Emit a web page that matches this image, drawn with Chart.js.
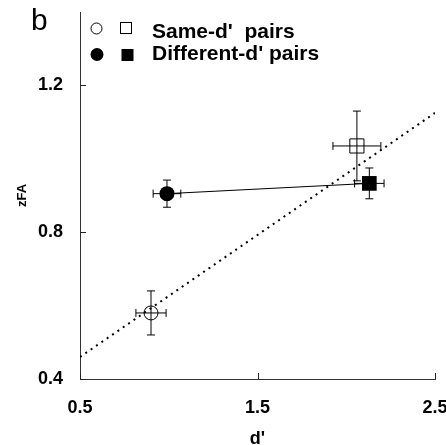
<!DOCTYPE html>
<html lang="en">

<head>
    <meta charset="UTF-8">
    <title>zFA vs d'</title>
    <script src="https://cdn.jsdelivr.net/npm/chart.js"></script>
    <style>
        html, body { margin: 0; padding: 0; background: #fff; }
        .chart-box { position: relative; width: 446px; height: 445px; }
    </style>
</head>

<body>
    <div class="chart-box">
        <canvas id="zfaChart"></canvas>
    </div>
    <script>
        // data
        const xTicks = [0.5, 1.5, 2.5];
        const yTicks = [0.4, 0.8, 1.2];

        // same-d' pairs (open circle, open square)
        const sameD = [0.90, 2.06];
        const sameZ = [0.58, 1.035];
        const sameDErr = [0.085, 0.135];
        const sameZErr = [0.06, 0.095];

        // different-d' pairs (filled circle, filled square)
        const diffD = [0.99, 2.13];
        const diffZ = [0.905, 0.933];
        const diffDErr = [0.078, 0.083];
        const diffZErr = [0.037, 0.042];

        // dotted reference line
        const refD = [0.5, 2.5];
        const refZ = [0.46, 1.125];

        const font = 'Liberation Sans, Arial, sans-serif';

        function toPoints(xs, ys) {
            return xs.map((x, i) => ({ x: x, y: ys[i] }));
        }

        // error bars drawn with the chart scales
        const errorBars = {
            id: 'errorBars',
            afterDatasetsDraw(chart) {
                const ctx = chart.ctx;
                const xs = chart.scales.x, ys = chart.scales.y;
                const cap = 4;
                ctx.save();
                ctx.strokeStyle = '#000';
                ctx.lineWidth = 1;
                const groups = [[sameD, sameZ, sameDErr, sameZErr], [diffD, diffZ, diffDErr, diffZErr]];
                groups.forEach(g => {
                    g[0].forEach((d, i) => {
                        const px = xs.getPixelForValue(d);
                        const py = ys.getPixelForValue(g[1][i]);
                        const x1 = xs.getPixelForValue(d - g[2][i]);
                        const x2 = xs.getPixelForValue(d + g[2][i]);
                        const y1 = ys.getPixelForValue(g[1][i] + g[3][i]);
                        const y2 = ys.getPixelForValue(g[1][i] - g[3][i]);
                        ctx.beginPath();
                        ctx.moveTo(x1, py); ctx.lineTo(x2, py);
                        ctx.moveTo(x1, py - cap); ctx.lineTo(x1, py + cap);
                        ctx.moveTo(x2, py - cap); ctx.lineTo(x2, py + cap);
                        ctx.moveTo(px, y1); ctx.lineTo(px, y2);
                        ctx.moveTo(px - cap, y1); ctx.lineTo(px + cap, y1);
                        ctx.moveTo(px - cap, y2); ctx.lineTo(px + cap, y2);
                        ctx.stroke();
                    });
                });
                ctx.restore();
            }
        };

        // inward tick marks on both axes
        const innerTicks = {
            id: 'innerTicks',
            afterDraw(chart) {
                const ctx = chart.ctx;
                const xs = chart.scales.x, ys = chart.scales.y;
                const a = chart.chartArea;
                ctx.save();
                ctx.strokeStyle = '#222';
                ctx.lineWidth = 1;
                ctx.beginPath();
                xs.ticks.forEach(t => {
                    const px = Math.round(xs.getPixelForValue(t.value)) + 0.5;
                    ctx.moveTo(px, a.bottom); ctx.lineTo(px, a.bottom - 6);
                });
                ys.ticks.forEach(t => {
                    const py = Math.round(ys.getPixelForValue(t.value)) + 0.5;
                    ctx.moveTo(a.left, py); ctx.lineTo(a.left + 6, py);
                });
                ctx.stroke();
                ctx.restore();
            }
        };

        // panel letter and legend
        const overlay = {
            id: 'overlay',
            afterDraw(chart) {
                const ctx = chart.ctx;
                ctx.save();
                ctx.fillStyle = '#000';
                ctx.strokeStyle = '#000';
                ctx.lineWidth = 1;
                ctx.textBaseline = 'alphabetic';
                ctx.font = '30px ' + font;
                ctx.fillText('b', 31, 30);

                // row 1: open markers
                ctx.beginPath();
                ctx.arc(96.5, 28.5, 5.5, 0, Math.PI * 2);
                ctx.stroke();
                ctx.strokeRect(120.5, 22.5, 11, 11);
                // row 2: filled markers
                ctx.beginPath();
                ctx.arc(97, 54.5, 6.5, 0, Math.PI * 2);
                ctx.fill();
                ctx.fillRect(121.5, 49, 12, 12);

                ctx.font = 'bold 21px ' + font;
                ctx.fillText("Same-d'  pairs", 152, 38);
                ctx.fillText("Different-d' pairs", 152, 60);
                ctx.restore();
            }
        };

        function noPad(s) {
            s.paddingLeft = 0;
            s.paddingRight = 0;
            s.paddingTop = 0;
            s.paddingBottom = 0;
        }

        const ctx1 = document.getElementById('zfaChart').getContext('2d');
        const zfaChart = new Chart(ctx1, {
            type: 'scatter',
            data: {
                datasets: [
                    {
                        label: 'reference',
                        type: 'line',
                        data: toPoints(refD, refZ),
                        borderColor: '#000',
                        borderWidth: 2,
                        borderDash: [2, 4.5],
                        pointRadius: 0,
                        fill: false
                    },
                    {
                        label: "Same-d' pairs",
                        data: toPoints(sameD, sameZ),
                        pointStyle: ['circle', 'rect'],
                        pointRadius: [7, 10],
                        pointBorderWidth: 1,
                        borderColor: '#000',
                        backgroundColor: 'rgba(0,0,0,0)',
                        showLine: false
                    },
                    {
                        label: "Different-d' pairs",
                        data: toPoints(diffD, diffZ),
                        pointStyle: ['circle', 'rect'],
                        pointRadius: [7.5, 10.4],
                        pointBorderWidth: 0,
                        borderColor: '#000',
                        borderWidth: 1,
                        backgroundColor: '#000',
                        showLine: true
                    }
                ]
            },
            options: {
                responsive: true,
                maintainAspectRatio: false,
                animation: false,
                events: [],
                layout: { padding: { top: 12, right: 10, left: 0, bottom: 0 } },
                plugins: {
                    legend: { display: false },
                    tooltip: { enabled: false }
                },
                scales: {
                    x: {
                        type: 'linear',
                        min: 0.5,
                        max: 2.5,
                        afterBuildTicks: s => { s.ticks = xTicks.map(v => ({ value: v })); },
                        afterFit: s => { s.height = 66; noPad(s); },
                        grid: { drawOnChartArea: false, drawTicks: false },
                        border: { color: '#333', width: 1 },
                        ticks: {
                            color: '#000',
                            padding: 18,
                            maxRotation: 0,
                            autoSkip: false,
                            font: { family: font, size: 18, weight: 'bold' },
                            callback: v => v.toFixed(1)
                        },
                        title: {
                            display: true,
                            text: "d'",
                            color: '#000',
                            padding: 0,
                            font: { family: font, size: 18, weight: 'bold', lineHeight: '12px' }
                        }
                    },
                    y: {
                        type: 'linear',
                        min: 0.4,
                        max: 1.4,
                        afterBuildTicks: s => { s.ticks = yTicks.map(v => ({ value: v })); },
                        afterFit: s => { s.width = 80; noPad(s); },
                        grid: { drawOnChartArea: false, drawTicks: false },
                        border: { color: '#333', width: 1 },
                        ticks: {
                            color: '#000',
                            padding: 17,
                            autoSkip: false,
                            font: { family: font, size: 18, weight: 'bold' },
                            callback: v => v.toFixed(1)
                        },
                        title: {
                            display: true,
                            text: 'zFA',
                            color: '#000',
                            padding: { top: 15, bottom: 0 },
                            font: { family: font, size: 13, weight: 'bold' }
                        }
                    }
                }
            },
            plugins: [errorBars, innerTicks, overlay]
        });
    </script>
</body>

</html>
